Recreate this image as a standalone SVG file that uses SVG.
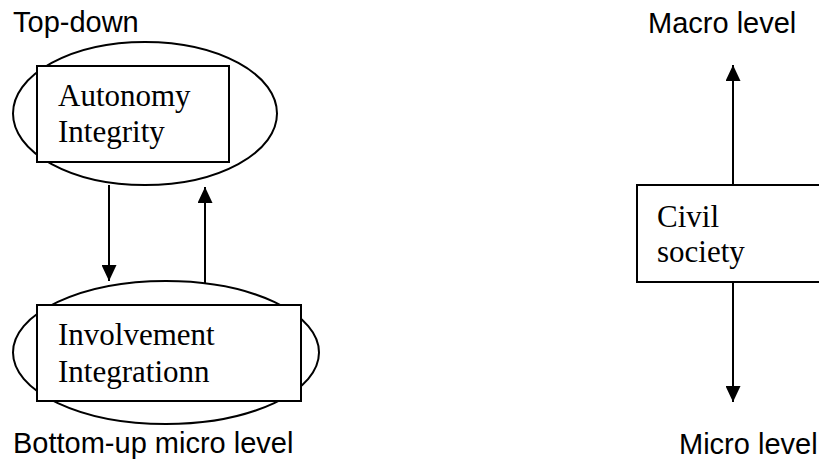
<svg xmlns="http://www.w3.org/2000/svg" width="819" height="459" viewBox="0 0 819 459">
<style>
.shape{fill:#fff;stroke:#000;stroke-width:2}
.conn{stroke:#000;stroke-width:2;fill:none}
</style>
<defs>
<marker id="arr" markerUnits="userSpaceOnUse" markerWidth="16" markerHeight="15" refX="16" refY="7.5" orient="auto">
<path d="M0,0 L16,7.5 L0,15 z" fill="#000"/>
</marker>
</defs>
<rect width="819" height="459" fill="#fff"/>
<g font-family="Liberation Sans" font-size="29" fill="#000">
<g id="label-topdown"><text x="13" y="32">Top-down</text></g>
<g id="label-bottomup"><text x="13" y="453">Bottom-up micro level</text></g>
<g id="label-macro"><text x="648" y="33">Macro level</text></g>
<g id="label-micro"><text x="679" y="454">Micro level</text></g>
</g>
<g id="node-autonomy">
<ellipse class="shape" cx="145" cy="113.5" rx="132" ry="71.5"/>
<rect class="shape" x="37" y="66" width="192" height="96"/>
<g font-family="Liberation Serif" font-size="31" fill="#000">
<text x="58" y="106">Autonomy</text>
<text x="58" y="142">Integrity</text>
</g>
</g>
<g id="node-involvement">
<ellipse class="shape" cx="166" cy="352.5" rx="153" ry="71.5"/>
<rect class="shape" x="37" y="305" width="264" height="96"/>
<g font-family="Liberation Serif" font-size="31" fill="#000">
<text x="58" y="345">Involvement</text>
<text x="58" y="382">Integrationn</text>
</g>
</g>
<g id="node-civil">
<rect class="shape" x="637" y="185" width="200" height="97"/>
<g font-family="Liberation Serif" font-size="31" fill="#000">
<text x="657" y="227">Civil</text>
<text x="657" y="262">society</text>
</g>
</g>
<g id="connectors">
<line class="conn" x1="109" y1="185" x2="109" y2="281" marker-end="url(#arr)"/>
<line class="conn" x1="205" y1="283" x2="205" y2="187" marker-end="url(#arr)"/>
<line class="conn" x1="733" y1="185" x2="733" y2="65" marker-end="url(#arr)"/>
<line class="conn" x1="733" y1="282" x2="733" y2="402" marker-end="url(#arr)"/>
</g>
</svg>
